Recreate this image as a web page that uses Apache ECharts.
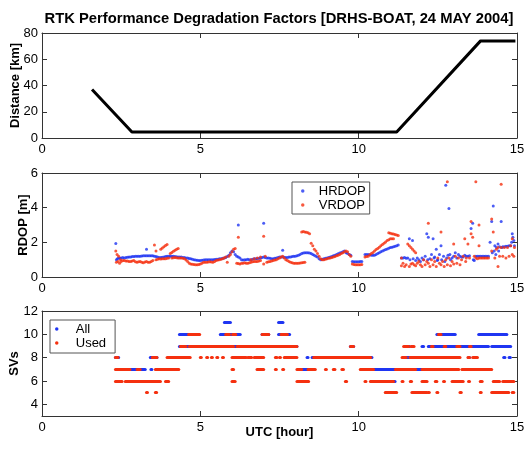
<!DOCTYPE html>
<html>
<head>
<meta charset="utf-8">
<title>RTK Performance Degradation Factors</title>
<script src="https://cdn.jsdelivr.net/npm/echarts@6.0.0/dist/echarts.min.js"></script>
<style>
  html, body { margin: 0; padding: 0; background: #fff; }
  #chart { width: 532px; height: 450px; }
</style>
</head>
<body>
<div id="chart"></div>
<script>
// ---- data ----
const hourTicks = [0, 5, 10, 15];

// baseline distance [km] vs UTC hour
const distHours = [1.58, 2.84, 11.2, 13.85, 14.95];
const distKm = [37, 4.5, 4.5, 74, 74];

// RDOP [m], pairs of [hour, value]
const hrdopPoints = [
  [2.33,1.93],[2.35,1.0],[2.38,1.05],[2.42,1.1],[2.46,1.08],[2.5,1.1],[2.55,1.12],[2.6,1.1],[2.65,1.12],[2.7,1.14],
  [2.75,1.15],[2.8,1.16],[2.85,1.18],[2.9,1.18],[2.95,1.2],[3.0,1.2],[3.05,1.2],[3.1,1.2],[3.15,1.21],[3.2,1.22],
  [3.3,1.6],[3.25,1.22],[3.3,1.22],[3.35,1.22],[3.4,1.22],[3.45,1.23],[3.5,1.22],[3.55,1.2],[3.6,1.18],[3.65,1.15],
  [3.7,1.12],[3.75,1.13],[3.8,1.14],[3.85,1.16],[3.9,1.18],[3.95,1.19],[4.0,1.2],[4.05,1.2],[4.1,1.2],[4.15,1.19],
  [4.2,1.18],[4.25,1.17],[4.3,1.16],[4.35,1.15],[4.4,1.15],[4.45,1.13],[4.5,1.12],[4.55,1.1],[4.6,1.1],[4.65,1.07],
  [4.7,1.05],[4.75,1.02],[4.8,1.0],[4.85,0.98],[4.9,0.96],[4.95,0.95],[5.0,0.95],[5.05,0.96],[5.1,0.98],[5.15,0.99],
  [5.2,1.0],[5.25,1.0],[5.3,1.0],[5.35,1.0],[5.4,1.0],[5.45,1.01],[5.5,1.02],[5.55,1.03],[5.6,1.05],[5.65,1.06],
  [5.7,1.08],[5.75,1.1],[5.8,1.12],[5.85,1.18],[5.9,1.25],[5.95,1.4],[6.0,1.5],[6.05,1.45],[6.1,1.3],[6.15,1.2],
  [6.2,3.0],[6.2,1.15],[6.25,1.1],[6.3,1.0],[6.35,0.98],[6.4,1.0],[6.45,1.0],[6.5,1.02],[6.55,1.0],[6.6,1.0],
  [6.65,1.02],[6.7,1.05],[6.75,1.05],[6.8,1.05],[6.85,1.08],[6.9,1.1],[7.0,3.1],[6.95,1.12],[7.0,1.15],[7.05,1.12],
  [7.1,1.1],[7.15,1.1],[7.2,1.08],[7.25,1.06],[7.3,1.05],[7.35,1.08],[7.4,1.1],[7.45,1.12],[7.5,1.15],[7.6,1.55],
  [7.55,1.15],[7.6,1.15],[7.65,1.14],[7.7,1.12],[7.75,1.13],[7.8,1.15],[7.85,1.16],[7.9,1.18],[7.95,1.19],[8.0,1.2],
  [8.05,1.22],[8.1,1.25],[8.15,1.3],[8.2,1.35],[8.25,1.38],[8.3,1.4],[8.35,1.4],[8.4,1.4],[8.45,1.38],[8.5,1.35],
  [8.55,1.3],[8.6,1.25],[8.65,1.2],[8.7,1.15],[8.75,1.05],[8.8,1.0],[8.85,1.02],[8.9,1.05],[8.95,1.08],[9.0,1.1],
  [9.05,1.12],[9.1,1.15],[9.15,1.18],[9.2,1.22],[9.25,1.26],[9.3,1.3],[9.35,1.34],[9.4,1.38],[9.45,1.42],[9.5,1.45],
  [9.55,1.5],[9.6,1.4],[9.65,1.35],[9.7,1.3],[9.75,1.25],[9.8,0.9],[9.85,0.88],[9.9,0.88],[9.95,0.88],[10.0,0.88],
  [10.05,0.89],[10.1,0.9],[10.2,1.3],[10.25,1.3],[10.3,1.3],[10.35,1.28],[10.4,1.25],[10.45,1.25],[10.5,1.25],[10.55,1.3],
  [10.6,1.35],[10.65,1.4],[10.7,1.45],[10.75,1.5],[10.8,1.55],[10.85,1.58],[10.9,1.62],[10.95,1.66],[11.0,1.7],[11.05,1.72],
  [11.1,1.75],[11.15,1.78],[11.2,1.8],[11.25,1.85],[11.35,1.1],[11.4,1.1],[11.45,1.12],[11.5,1.08],[11.55,1.1],[11.6,2.2],
  [11.62,1.0],[11.7,2.1],[11.72,1.05],[11.8,0.95],[11.85,1.1],[11.9,1.0],[11.95,0.9],[12.0,1.1],[12.05,1.0],[12.1,1.2],
  [12.15,2.5],[12.18,1.0],[12.2,2.3],[12.25,1.05],[12.3,1.3],[12.35,2.2],[12.38,1.1],[12.4,1.15],[12.45,1.6],[12.48,0.95],
  [12.5,1.0],[12.55,1.3],[12.6,1.8],[12.62,1.0],[12.68,1.2],[12.72,0.9],[12.75,5.3],[12.78,1.1],[12.82,1.25],[12.85,3.95],
  [12.88,1.3],[12.9,1.0],[12.95,1.1],[13.0,1.2],[13.05,1.4],[13.1,1.1],[13.15,1.3],[13.2,1.2],[13.25,1.15],[13.3,1.15],
  [13.35,1.25],[13.4,1.2],[13.45,1.2],[13.5,1.22],[13.55,2.8],[13.6,3.1],[13.62,1.0],[13.65,0.95],[13.7,1.2],[13.75,1.2],
  [13.8,1.2],[13.85,1.2],[13.9,1.2],[13.95,1.2],[14.0,1.2],[14.05,1.2],[14.1,1.2],[14.15,2.0],[14.2,3.2],[14.22,1.4],
  [14.25,4.1],[14.28,1.5],[14.3,1.8],[14.33,1.3],[14.35,1.7],[14.4,1.9],[14.42,1.5],[14.45,1.75],[14.5,3.2],[14.52,1.7],
  [14.55,1.75],[14.6,1.75],[14.65,1.78],[14.7,1.78],[14.75,1.8],[14.8,1.8],[14.83,2.0],[14.85,2.5],[14.87,2.3],[14.9,2.1],
  [14.92,1.8]
];

const vrdopPoints = [
  [2.33,1.5],[2.35,0.85],[2.37,1.3],[2.4,0.9],[2.42,1.2],[2.45,0.8],[2.48,1.0],[2.5,0.9],[2.55,0.95],[2.6,0.95],
  [2.65,0.92],[2.7,0.92],[2.75,0.9],[2.8,0.9],[2.85,0.93],[2.9,0.95],[2.95,0.88],[3.0,0.85],[3.05,0.88],[3.1,0.9],
  [3.15,0.85],[3.2,0.82],[3.25,0.86],[3.3,0.9],[3.35,0.85],[3.4,0.85],[3.45,0.9],[3.5,0.95],[3.55,1.85],[3.6,1.5],
  [3.6,1.0],[3.65,1.02],[3.7,1.05],[3.75,1.6],[3.8,1.68],[3.85,1.75],[3.9,1.82],[3.95,1.88],[3.75,1.04],[3.8,1.05],
  [3.85,1.05],[3.9,1.05],[3.95,1.08],[4.0,1.1],[4.05,1.35],[4.1,1.42],[4.15,1.48],[4.2,1.55],[4.25,1.6],[4.3,1.65],
  [4.1,1.1],[4.15,1.11],[4.2,1.12],[4.25,1.11],[4.3,1.1],[4.35,1.1],[4.4,1.1],[4.45,1.08],[4.5,1.05],[4.55,0.98],
  [4.6,0.9],[4.65,0.8],[4.7,0.75],[4.75,0.73],[4.8,0.72],[4.85,0.7],[4.9,0.7],[4.95,0.72],[5.0,0.75],[5.05,0.8],
  [5.1,0.85],[5.15,0.85],[5.2,0.85],[5.25,0.86],[5.3,0.88],[5.35,0.86],[5.4,0.85],[5.45,0.9],[5.5,0.95],[5.55,0.98],
  [5.6,1.0],[5.65,1.02],[5.7,1.05],[5.75,1.1],[5.8,1.15],[5.85,0.85],[5.9,1.2],[5.95,1.3],[6.0,1.45],[6.05,1.6],
  [6.1,1.65],[6.2,2.3],[6.15,0.8],[6.2,0.78],[6.25,0.75],[6.3,0.8],[6.35,0.8],[6.4,0.82],[6.45,0.8],[6.5,0.8],
  [6.55,0.82],[6.6,0.85],[6.6,1.0],[6.65,0.88],[6.7,0.9],[6.7,1.05],[6.75,0.9],[6.8,0.9],[6.8,1.1],[6.85,0.92],
  [6.9,0.95],[6.9,1.15],[7.0,2.35],[7.0,0.75],[7.05,1.2],[7.1,0.85],[7.15,0.88],[7.2,0.9],[7.25,0.92],[7.3,0.95],
  [7.35,0.98],[7.4,1.0],[7.45,1.05],[7.5,1.1],[7.55,1.15],[7.6,1.2],[7.65,1.1],[7.7,1.0],[7.75,0.95],[7.8,0.9],
  [7.85,0.85],[7.9,0.82],[7.95,0.8],[8.0,0.8],[8.05,0.8],[8.1,0.8],[8.15,0.81],[8.2,0.82],[8.25,0.84],[8.3,0.85],
  [8.2,2.6],[8.25,2.62],[8.3,2.6],[8.35,2.58],[8.4,2.55],[8.45,2.5],[8.5,1.95],[8.55,1.8],[8.6,1.6],[8.65,1.5],
  [8.7,1.35],[8.75,1.2],[8.8,1.05],[8.85,1.0],[8.9,1.0],[8.95,1.02],[9.0,1.05],[9.05,1.08],[9.1,1.1],[9.15,1.12],
  [9.2,1.15],[9.25,1.18],[9.3,1.22],[9.35,1.26],[9.4,1.3],[9.45,1.35],[9.5,1.4],[9.55,1.45],[9.6,1.5],[9.65,1.45],
  [9.7,1.3],[9.75,1.2],[9.8,0.75],[9.85,0.72],[9.9,0.7],[9.95,0.7],[10.0,0.7],[10.05,0.71],[10.1,0.72],[10.2,1.15],
  [10.25,1.18],[10.3,1.2],[10.35,1.28],[10.4,1.35],[10.45,1.42],[10.5,1.5],[10.55,1.58],[10.6,1.65],[10.65,1.72],[10.7,1.8],
  [10.75,1.88],[10.8,1.95],[10.85,2.02],[10.9,2.1],[10.95,2.15],[11.0,2.2],[11.05,2.2],[11.1,2.2],[10.95,2.55],[11.0,2.53],
  [11.05,2.5],[11.1,2.48],[11.15,2.45],[11.2,2.43],[11.25,2.4],[11.35,0.65],[11.35,1.1],[11.4,0.8],[11.45,0.6],[11.5,0.7],
  [11.55,1.9],[11.6,1.8],[11.65,1.7],[11.7,1.6],[11.75,1.5],[11.8,1.4],[11.6,0.6],[11.65,0.75],[11.7,0.8],[11.75,0.7],
  [11.8,0.65],[11.85,0.8],[11.9,0.9],[11.95,0.7],[12.0,0.6],[12.05,1.0],[12.1,0.7],[12.2,3.1],[12.15,0.9],[12.2,0.8],
  [12.25,0.6],[12.3,1.0],[12.35,0.7],[12.4,0.9],[12.45,0.6],[12.5,1.1],[12.55,0.8],[12.6,2.6],[12.6,0.7],[12.65,0.9],
  [12.7,0.6],[12.8,5.5],[12.75,1.0],[12.8,0.7],[12.85,1.1],[12.9,0.65],[12.95,0.9],[13.0,1.9],[13.0,0.75],[13.05,1.2],
  [13.1,0.8],[13.15,1.1],[13.2,0.7],[13.25,1.0],[13.3,1.2],[13.35,2.2],[13.38,0.9],[13.4,1.1],[13.45,1.9],[13.5,1.1],
  [13.55,3.2],[13.55,2.5],[13.6,2.3],[13.65,1.2],[13.7,5.5],[13.7,1.1],[13.75,1.05],[13.8,3.0],[13.8,1.8],[13.8,1.1],
  [13.85,1.1],[13.9,1.1],[13.95,1.1],[14.0,1.1],[14.05,1.1],[14.1,1.1],[14.2,3.35],[14.2,1.5],[14.25,2.6],[14.3,1.1],
  [14.35,1.6],[14.4,0.6],[14.4,1.7],[14.45,1.2],[14.5,5.35],[14.5,1.7],[14.55,1.2],[14.6,1.7],[14.65,1.1],[14.7,1.7],
  [14.75,1.2],[14.8,1.8],[14.85,2.2],[14.85,1.3],[14.9,1.2],[14.92,1.7]
];

// satellites: runs of [start hour, end hour, count]
const allRuns = [
  [5.76,5.95,11],[7.47,7.61,11],
  [4.34,4.84,10],[5.63,6.26,10],[6.95,7.16,10],[7.47,7.82,10],[12.47,13.05,10],[13.79,14.68,10],
  [4.34,5.0,9],[5.6,5.75,9],[6.05,6.2,9],[6.9,7.0,9],[7.9,8.05,9],[9.74,9.84,9],[11.5,11.6,9],[12.0,12.05,9],
  [12.2,14.1,9],[14.2,14.8,9],
  [2.32,2.42,8],[3.42,3.63,8],[4.0,4.1,8],[8.37,8.4,8],[8.53,8.62,8],[10.2,10.42,8],[11.45,12.1,8],[13.47,13.5,8],
  [14.58,14.62,8],[14.75,14.79,8],
  [2.8,3.26,7],[3.44,3.47,7],[3.7,3.75,7],[8.2,8.4,7],[10.47,11.16,7],[11.8,12.0,7],[13.3,13.35,7],
  [11.1,11.15,6]
];
const usedRuns = [
  [4.63,4.98,10],[5.8,5.92,10],[6.02,6.12,10],[6.95,7.16,10],[7.55,7.75,10],[12.52,12.6,10],
  [4.37,4.55,9],[4.65,6.05,9],[6.16,8.05,9],[9.74,9.84,9],[11.42,11.58,9],[11.65,11.75,9],[12.3,12.35,9],
  [12.7,12.75,9],[13.1,13.2,9],[13.5,13.55,9],
  [2.32,2.4,8],[3.48,3.63,8],[3.95,4.68,8],[5.0,5.03,8],[5.2,5.23,8],[5.35,5.38,8],[5.52,5.55,8],[5.7,5.73,8],
  [6.0,6.45,8],[6.5,6.62,8],[6.7,7.0,8],[7.37,7.42,8],[7.5,7.53,8],[7.65,8.05,8],[8.58,10.38,8],[11.37,11.5,8],
  [11.62,13.2,8],[13.45,13.5,8],[13.6,13.75,8],
  [2.32,2.78,7],[3.0,3.1,7],[3.58,4.32,7],[6.0,6.05,7],[6.79,7.0,7],[7.37,7.4,7],[7.6,7.63,7],[8.05,8.2,7],[8.4,8.63,7],
  [8.95,8.98,7],[9.2,9.25,7],[9.47,9.52,7],[10.05,10.47,7],[11.16,11.8,7],[12.0,13.16,7],[13.26,14.2,7],
  [2.32,2.53,6],[2.63,3.74,6],[3.9,4.0,6],[6.0,6.1,6],[8.05,8.42,6],[9.58,9.62,6],[10.2,10.23,6],[10.37,11.1,6],
  [11.37,11.4,6],[11.63,11.67,6],[12.0,12.16,6],[12.42,12.47,6],[12.68,12.71,6],[12.95,13.3,6],[13.47,13.5,6],
  [13.84,13.9,6],[14.25,14.45,6],[14.55,14.9,6],
  [3.3,3.33,5],[3.58,3.62,5],[10.84,11.2,5],[11.68,12.16,5],[12.2,12.23,5],[12.47,12.5,5],[13.2,13.24,5],
  [13.84,13.87,5],[14.2,14.74,5],[14.85,14.9,5]
];
const svTicks = [4, 6, 8, 10, 12];

// ---- styling ----
const FONT = 'Liberation Sans, Arial, sans-serif';
const BOX = '#333';
const BLUE = '#1f35f2';
const RED = '#f5300f';

const chart = echarts.init(document.getElementById('chart'), null, { renderer: 'canvas' });

// fixed plot boxes, no auto-fitting of labels
const grids = [
  { left: 42, right: 15, top: 33, height: 105, outerBoundsMode: 'none' },
  { left: 42, right: 15, top: 173, height: 104, outerBoundsMode: 'none' },
  { left: 42, right: 15, top: 311, height: 105, outerBoundsMode: 'none' }
];

function xAxes(gridIndex, name) {
  const common = {
    type: 'value', gridIndex: gridIndex, min: 0, max: 15, interval: 5,
    axisLine: { show: true, onZero: false, lineStyle: { color: BOX, width: 1 } },
    axisTick: { show: true, inside: true, length: 5, lineStyle: { color: BOX } },
    splitLine: { show: false }
  };
  return [
    Object.assign({}, common, {
      position: 'bottom',
      axisLabel: { color: '#000', fontSize: 13, fontFamily: FONT, margin: 5, showMinLabel: true, showMaxLabel: true },
      name: name || '', nameLocation: 'middle', nameGap: 10, nameMoveOverlap: false,
      nameTextStyle: { color: '#000', fontSize: 13, fontWeight: 'bold', fontFamily: FONT, verticalAlign: 'top' }
    }),
    Object.assign({}, common, { position: 'top', axisLabel: { show: false } })
  ];
}

function yAxes(gridIndex, cfg) {
  const common = {
    type: 'value', gridIndex: gridIndex, min: cfg.min, max: cfg.max,
    axisLine: { show: true, onZero: false, lineStyle: { color: BOX, width: 1 } },
    axisTick: { show: true, inside: true, length: 5, lineStyle: { color: BOX } },
    splitLine: { show: false }
  };
  if (cfg.interval) common.interval = cfg.interval;
  if (cfg.ticks) common.axisTick.customValues = cfg.ticks;
  const left = Object.assign({}, common, {
    position: 'left',
    axisLabel: { color: '#000', fontSize: 13, fontFamily: FONT, margin: 4, showMinLabel: true, showMaxLabel: true },
    name: cfg.name, nameLocation: 'middle', nameGap: cfg.nameGap, nameRotate: 90, nameMoveOverlap: false,
    nameTextStyle: { color: '#000', fontSize: 13, fontWeight: 'bold', fontFamily: FONT }
  });
  if (cfg.ticks) left.axisLabel.customValues = cfg.ticks;
  const right = Object.assign({}, common, { position: 'right', axisLabel: { show: false } });
  return [left, right];
}

const legendBase = {
  orient: 'vertical', itemHeight: 3.5, itemGap: 0,
  borderColor: '#555', borderWidth: 1, borderRadius: 0, backgroundColor: '#fff',
  selectedMode: false,
  itemStyle: { borderWidth: 0 },
  lineStyle: { width: 0 },
  textStyle: { color: '#000', fontSize: 13, fontFamily: FONT, lineHeight: 14 }
};

const option = {
  backgroundColor: '#fff',
  animation: false,
  title: {
    text: 'RTK Performance Degradation Factors [DRHS-BOAT, 24 MAY 2004]',
    left: 279, top: 11, textAlign: 'center', padding: 0,
    textStyle: { color: '#000', fontSize: 14.75, fontWeight: 'bold', fontFamily: FONT }
  },
  legend: [
    Object.assign({}, legendBase, {
      data: [
        { name: 'HRDOP', icon: 'circle', itemStyle: { color: BLUE, borderWidth: 0 } },
        { name: 'VRDOP', icon: 'circle', itemStyle: { color: RED, borderWidth: 0 } }
      ],
      left: 292, top: 182, itemWidth: 22,
      padding: [2, 4, 2, 9]
    }),
    Object.assign({}, legendBase, {
      data: [
        { name: 'All', icon: 'circle', itemStyle: { color: BLUE, borderWidth: 0 } },
        { name: 'Used', icon: 'circle', itemStyle: { color: RED, borderWidth: 0 } }
      ],
      left: 50, top: 320, itemWidth: 28,
      padding: [2, 9, 3, 5]
    })
  ],
  grid: grids,
  xAxis: [].concat(xAxes(0), xAxes(1), xAxes(2, 'UTC [hour]')),
  yAxis: [].concat(
    yAxes(0, { min: 0, max: 80, interval: 20, name: 'Distance [km]', nameGap: 20 }),
    yAxes(1, { min: 0, max: 6, interval: 2, name: 'RDOP [m]', nameGap: 12 }),
    yAxes(2, { min: 3, max: 12, ticks: svTicks, name: 'SVs', nameGap: 21 })
  ),
  series: [
    {
      name: 'Distance', type: 'line', xAxisIndex: 0, yAxisIndex: 0,
      data: distHours.map((h, i) => [h, distKm[i]]),
      symbol: 'none', lineStyle: { color: '#000', width: 3 }
    },
    {
      name: 'HRDOP', type: 'scatter', xAxisIndex: 2, yAxisIndex: 2,
      data: hrdopPoints, symbolSize: 3, itemStyle: { color: BLUE }
    },
    {
      name: 'VRDOP', type: 'scatter', xAxisIndex: 2, yAxisIndex: 2,
      data: vrdopPoints, symbolSize: 3, itemStyle: { color: RED }
    },
    {
      name: 'All', type: 'lines', coordinateSystem: 'cartesian2d', xAxisIndex: 4, yAxisIndex: 4,
      data: allRuns.map(r => ({ coords: [[r[0], r[2]], [r[1], r[2]]] })),
      lineStyle: { color: BLUE, width: 3, opacity: 1, cap: 'round' }
    },
    {
      name: 'Used', type: 'lines', coordinateSystem: 'cartesian2d', xAxisIndex: 4, yAxisIndex: 4,
      data: usedRuns.map(r => ({ coords: [[r[0], r[2]], [r[1], r[2]]] })),
      lineStyle: { color: RED, width: 3, opacity: 1, cap: 'round' }
    }
  ]
};

chart.setOption(option);
</script>
</body>
</html>
